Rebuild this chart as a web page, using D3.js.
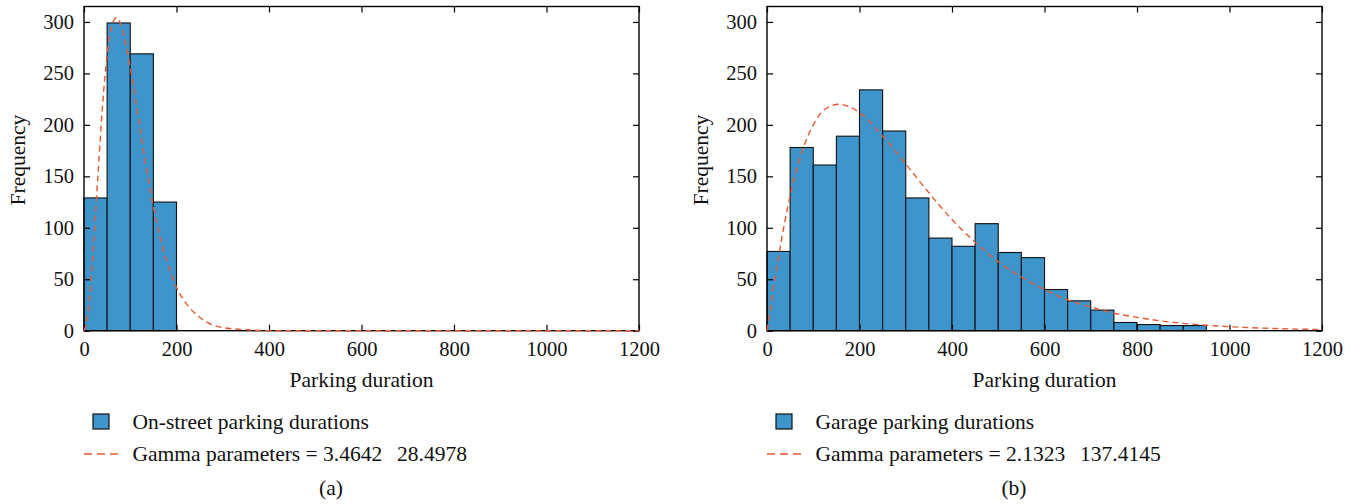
<!DOCTYPE html>
<html>
<head>
<meta charset="utf-8">
<script src="https://cdn.jsdelivr.net/npm/d3@7"></script>
<style>
  body { margin: 0; background: #fff; }
  svg { display: block; font-family: "Liberation Serif", "Times New Roman", serif; }
</style>
</head>
<body>
<div id="chart"></div>
<script>
// Histogram data (bin edges, counts)
const leftBinEdges = [0, 50, 100, 150, 200];
const leftCounts = [129, 299, 269, 125];

const rightBinEdges = [0, 50, 100, 150, 200, 250, 300, 350, 400, 450, 500, 550, 600, 650, 700, 750, 800, 850, 900, 950];
const rightCounts = [77, 178, 161, 189, 234, 194, 129, 90, 82, 104, 76, 71, 40, 29, 20, 8, 6, 5, 5];

// Fitted gamma curves, sampled from the figure
const leftCurveX = [0, 10, 20, 30, 40, 50, 60, 70, 80, 90, 100, 120, 140, 160, 180, 200, 220, 250, 300, 350, 400, 600, 800, 1000, 1200];
const leftCurveY = [0, 21, 80, 150, 218, 268, 296, 304, 297, 280, 256, 199, 144, 99, 66, 42, 27, 13, 3, 1, 0, 0, 0, 0, 0];

const rightCurveX = [0, 25, 50, 75, 100, 125, 155, 200, 250, 300, 350, 400, 450, 500, 550, 600, 650, 700, 750, 800, 850, 900, 950, 1000, 1100, 1200];
const rightCurveY = [0, 72, 131, 173, 200, 215, 220, 212, 189, 162, 134, 108, 86, 67, 52, 40, 30, 23, 17, 13, 9.6, 7.1, 5.3, 3.9, 2.1, 1.1];

const xTicks = [0, 200, 400, 600, 800, 1000, 1200];
const yTicks = [0, 50, 100, 150, 200, 250, 300];

const panels = [
    {left: 84, edges: leftBinEdges, counts: leftCounts, cx: leftCurveX, cy: leftCurveY,
     barLabel: "On-street parking durations", gamma: "Gamma parameters = 3.4642", gamma2: "28.4978", tag: "(a)"},
    {left: 767, edges: rightBinEdges, counts: rightCounts, cx: rightCurveX, cy: rightCurveY,
     barLabel: "Garage parking durations", gamma: "Gamma parameters = 2.1323", gamma2: "137.4145", tag: "(b)"}
];

const W = 1362, H = 504;
const plotTop = 6.5, plotBottom = 330.7, plotWidth = 555;
const barColor = "#3d95cc", curveColor = "#e8582f";
const labelSize = "21.5px";

const svg = d3.select("#chart")
    .append("svg")
    .attr("width", W)
    .attr("height", H);

panels.forEach(function (p) {
    const g = svg.append("g").attr("transform", `translate(${p.left},0)`);

    const xScale = d3.scaleLinear().domain([0, 1200]).range([0, plotWidth]);
    const yScale = d3.scaleLinear().domain([0, 315]).range([plotBottom, plotTop]);

    // bars
    g.selectAll("rect.bar")
        .data(p.counts)
        .enter().append("rect")
        .attr("class", "bar")
        .attr("x", (d, i) => xScale(p.edges[i]))
        .attr("width", (d, i) => xScale(p.edges[i + 1] !== undefined ? p.edges[i + 1] : p.edges[i] + 50) - xScale(p.edges[i]))
        .attr("y", d => yScale(d))
        .attr("height", d => yScale(0) - yScale(d))
        .attr("fill", barColor)
        .attr("stroke", "#111")
        .attr("stroke-width", 1.1);

    // axes with inward ticks
    g.append("g")
        .attr("transform", `translate(0,${plotBottom})`)
        .call(d3.axisBottom(xScale).tickValues(xTicks).tickSize(-6).tickPadding(11).tickFormat(d3.format("d")));
    g.append("g")
        .call(d3.axisLeft(yScale).tickValues(yTicks).tickSize(-6).tickPadding(10));
    g.append("g")
        .attr("transform", `translate(0,${plotTop})`)
        .call(d3.axisTop(xScale).tickValues(xTicks).tickSize(-6).tickFormat(""));
    g.append("g")
        .attr("transform", `translate(${plotWidth},0)`)
        .call(d3.axisRight(yScale).tickValues(yTicks).tickSize(-6).tickFormat(""));

    g.selectAll(".domain").remove();
    g.selectAll(".tick line").attr("stroke", "#000").attr("stroke-width", 1.2);
    g.selectAll(".tick text")
        .attr("fill", "#111")
        .style("font-size", "20.5px")
        .style("font-family", "Liberation Serif, serif");

    // frame
    g.append("rect")
        .attr("x", 0)
        .attr("y", plotTop)
        .attr("width", plotWidth)
        .attr("height", plotBottom - plotTop)
        .attr("fill", "none")
        .attr("stroke", "#000")
        .attr("stroke-width", 1.4);

    // gamma curve
    const pts = p.cx.map((x, i) => [x, p.cy[i]]);
    const line = d3.line()
        .x(d => xScale(d[0]))
        .y(d => yScale(d[1]))
        .curve(d3.curveMonotoneX);
    g.append("path")
        .datum(pts)
        .attr("d", line)
        .attr("fill", "none")
        .attr("stroke", curveColor)
        .attr("stroke-width", 1.4)
        .attr("stroke-dasharray", "6,4");

    // axis labels
    g.append("text")
        .attr("x", plotWidth / 2)
        .attr("y", 387)
        .attr("text-anchor", "middle")
        .style("font-size", labelSize)
        .attr("fill", "#111")
        .text("Parking duration");

    g.append("text")
        .attr("transform", "rotate(-90)")
        .attr("x", -160)
        .attr("y", -59)
        .attr("text-anchor", "middle")
        .style("font-size", labelSize)
        .attr("fill", "#111")
        .text("Frequency");

    // legend
    const legend = g.append("g");
    legend.append("rect")
        .attr("x", 9)
        .attr("y", 414)
        .attr("width", 16)
        .attr("height", 15)
        .attr("fill", barColor)
        .attr("stroke", "#111")
        .attr("stroke-width", 1.2);
    legend.append("text")
        .attr("x", 48.5)
        .attr("y", 428.5)
        .style("font-size", labelSize)
        .attr("fill", "#111")
        .text(p.barLabel);

    legend.append("line")
        .attr("x1", 0)
        .attr("x2", 35)
        .attr("y1", 454)
        .attr("y2", 454)
        .attr("stroke", curveColor)
        .attr("stroke-width", 1.3)
        .attr("stroke-dasharray", "8,5");
    const gt = legend.append("text")
        .attr("x", 48.5)
        .attr("y", 460.5)
        .style("font-size", labelSize)
        .attr("fill", "#111");
    gt.append("tspan").text(p.gamma);
    gt.append("tspan").attr("x", 48.5 + 264.5).text(p.gamma2);

    // panel tag
    g.append("text")
        .attr("x", 247)
        .attr("y", 495)
        .attr("text-anchor", "middle")
        .style("font-size", labelSize)
        .attr("fill", "#111")
        .text(p.tag);
});
</script>
</body>
</html>
